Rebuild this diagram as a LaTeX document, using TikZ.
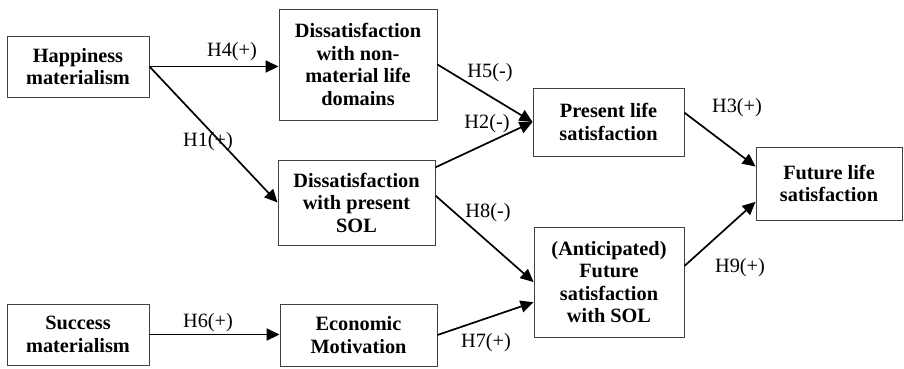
\documentclass[tikz,border=0pt]{standalone}
\usepackage{fontspec}
\setmainfont{Liberation Serif}
\usepackage{tikz}
\usetikzlibrary{arrows.meta}

\begin{document}
\begin{tikzpicture}[x=1pt,y=1pt]
\tikzstyle{every node}+=[inner sep=0pt, font=\fontsize{20.3}{22.5}\selectfont]
\tikzstyle{box}=[draw=black!75, line width=0.9pt, align=center, font=\fontsize{20.3}{22.5}\selectfont\bfseries]
\tikzstyle{link}=[black, line width=1.7pt, -{Triangle[length=13pt,width=12pt]}]
\useasboundingbox (0,0) rectangle (904,-368);
% boxes
\node [box, minimum width=142, minimum height=61] (happy) at (78,-66.5) {Happiness\\materialism};
\node [box, minimum width=158, minimum height=111] (nonmat) at (358,-64.5) {Dissatisfaction\\with non-\\material life\\domains};
\node [box, minimum width=157, minimum height=85] (dissol) at (356.5,-202.5) {Dissatisfaction\\with present\\SOL};
\node [box, minimum width=142, minimum height=61] (success) at (78,-334.5) {Success\\materialism};
\node [box, minimum width=157, minimum height=62] (econ) at (358.5,-335) {Economic\\Motivation};
\node [box, minimum width=151, minimum height=68] (present) at (608.5,-122) {Present life\\satisfaction};
\node [box, minimum width=150, minimum height=110] (antic) at (609,-282) {(Anticipated)\\Future\\satisfaction\\with SOL};
\node [box, minimum width=146, minimum height=73] (future) at (829,-183.5) {Future life\\satisfaction};
% paths
\draw [link] (happy.east) -- (nonmat.west |- happy.east);
\draw [link] (happy.east) -- (dissol.west);
\draw [link] (nonmat.east) -- (present.west);
\draw [link] (dissol.24) -- (present.west);
\draw [link] (dissol.5) -- (antic.west);
\draw [link] (present.7) -- (future.167);
\draw [link] (antic.12) -- (future.-166);
\draw [link] (success.east) -- (econ.west |- success.east);
\draw [link] (econ.east) -- (antic.195);
% labels
\node (h4) at (232,-52) {H4(+)};
\node (h1) at (208,-142) {H1(+)};
\node (h5) at (490,-73) {H5(-)};
\node (h2) at (487,-124) {H2(-)};
\node (h3) at (737,-108) {H3(+)};
\node (h8) at (488,-213) {H8(-)};
\node (h9) at (740,-268) {H9(+)};
\node (h6) at (208,-323) {H6(+)};
\node (h7) at (486,-343) {H7(+)};
\end{tikzpicture}
\end{document}
